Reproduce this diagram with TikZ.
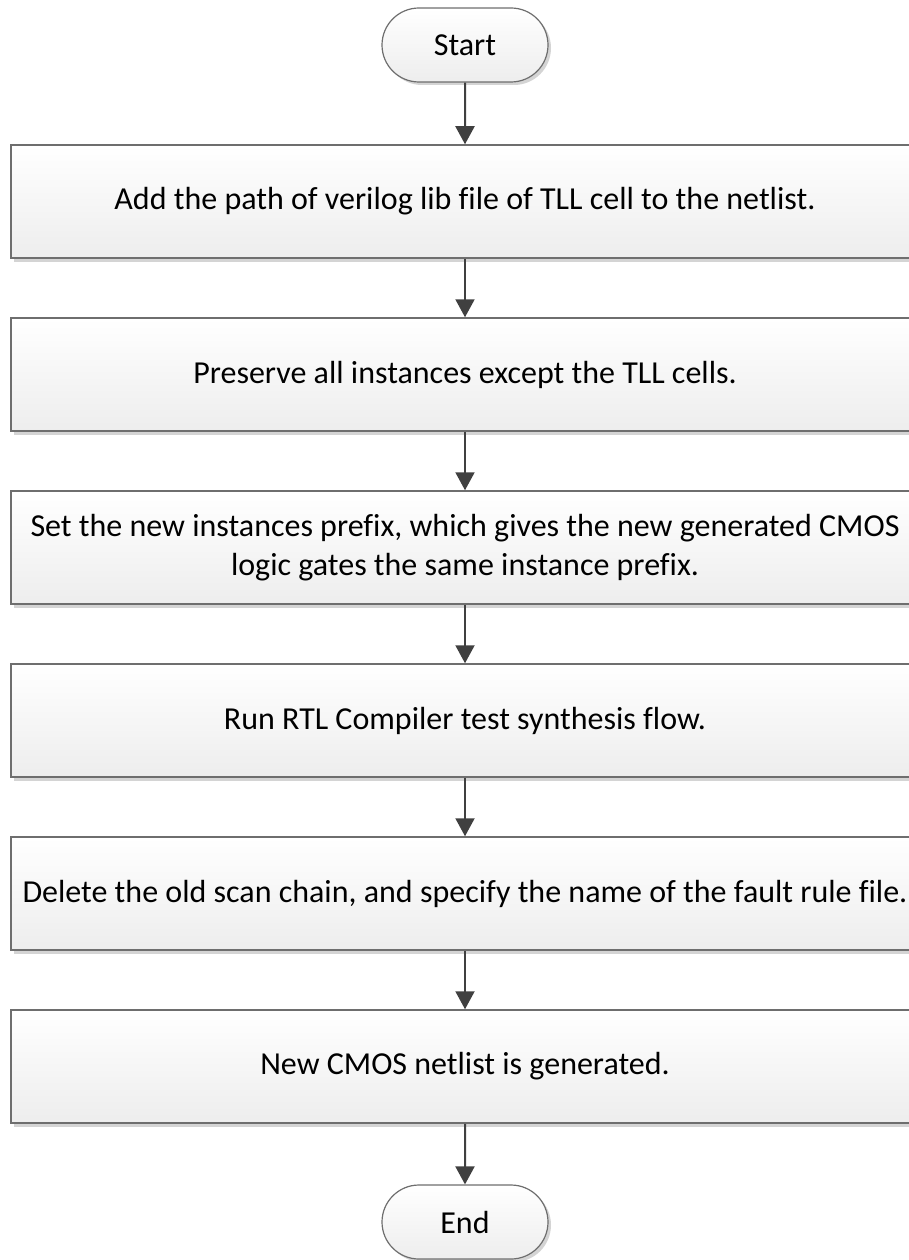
\documentclass[tikz,border=0pt]{standalone}
\usepackage{fontspec}
\setmainfont{Carlito}[Ligatures=NoCommon]
\usetikzlibrary{arrows.meta,shapes.misc,shadows}
\definecolor{edgegray}{HTML}{6E6E6E}
\definecolor{arrowgray}{HTML}{404040}
\definecolor{shadowgray}{HTML}{D4D4D4}
\tikzset{
  stepbox/.style={rectangle, draw=edgegray, line width=1.5pt,
    top color=white, bottom color=black!7,
    minimum width=908pt, minimum height=113pt, inner sep=0pt,
    align=center, font=\fontsize{32}{39}\selectfont,
    drop shadow={shadow xshift=3pt, shadow yshift=-4pt, fill=shadowgray, opacity=1}},
  terminal/.style={rounded rectangle, draw=edgegray, line width=1.2pt,
    top color=white, bottom color=black!7,
    minimum width=166pt, minimum height=74pt, inner sep=0pt,
    font=\fontsize{32}{39}\selectfont,
    drop shadow={shadow xshift=3pt, shadow yshift=-3pt, fill=shadowgray, opacity=1}},
  flow/.style={draw=arrowgray, line width=2pt,
    -{Triangle[length=18pt,width=19pt]}}
}
\begin{document}
\begin{tikzpicture}[x=1pt,y=-1pt]
  \useasboundingbox (0,0) rectangle (909,1260);
  \node[terminal] (start) at (465,45) {Start};
  \node[stepbox] (s1) at (465,201.5) {Add the path of verilog lib file of TLL cell to the netlist.};
  \node[stepbox] (s2) at (465,374.5) {Preserve all instances except the TLL cells.};
  \node[stepbox] (s3) at (465,547.5) {Set the new instances prefix, which gives the new generated CMOS\\logic gates the same instance prefix.};
  \node[stepbox] (s4) at (465,720.5) {Run RTL Compiler test synthesis flow.};
  \node[stepbox] (s5) at (465,893.5) {Delete the old scan chain, and specify the name of the fault rule file.};
  \node[stepbox] (s6) at (465,1066.5) {New CMOS netlist is generated.};
  \node[terminal] (end) at (465,1222) {End};
  \draw[flow] (start) -- (s1);
  \draw[flow] (s1) -- (s2);
  \draw[flow] (s2) -- (s3);
  \draw[flow] (s3) -- (s4);
  \draw[flow] (s4) -- (s5);
  \draw[flow] (s5) -- (s6);
  \draw[flow] (s6) -- (end);
\end{tikzpicture}
\end{document}
